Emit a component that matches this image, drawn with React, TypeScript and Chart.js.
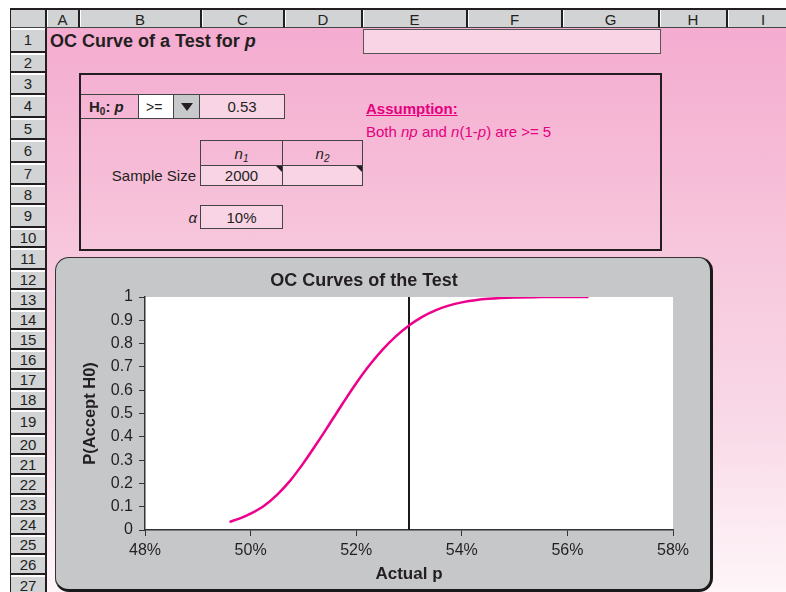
import React, { useEffect, useRef } from "react";
import { Chart, registerables } from "chart.js";

Chart.register(...registerables);

// ---- Data ----
const actualP = [49.6, 49.8, 50, 50.25, 50.5, 50.75, 51, 51.25, 51.5, 51.75, 52, 52.25, 52.5, 52.75, 53, 53.25, 53.5, 53.75, 54, 54.25, 54.5, 55, 55.5, 56, 56.4];
const probAccept = [0.035, 0.05, 0.07, 0.103, 0.151, 0.212, 0.287, 0.37, 0.457, 0.545, 0.63, 0.707, 0.774, 0.831, 0.878, 0.915, 0.943, 0.963, 0.977, 0.986, 0.992, 0.998, 0.9995, 1.0, 1.0];
const hypothesizedP = 53;
const xTickValues = [48, 50, 52, 54, 56, 58];
const yTickValues = [0, 0.1, 0.2, 0.3, 0.4, 0.5, 0.6, 0.7, 0.8, 0.9, 1];
const columnLetters = ["A", "B", "C", "D", "E", "F", "G", "H", "I"];
const rowNumbers = [1, 2, 3, 4, 5, 6, 7, 8, 9, 10, 11, 12, 13, 14, 15, 16, 17, 18, 19, 20, 21, 22, 23, 24, 25, 26, 27];

// ---- Layout (sheet grid) ----
const colEdges = [47, 80, 202, 285, 363, 468, 563, 660, 728, 800];
const rowEdges = [28, 53, 73, 95, 118, 140, 163, 185, 205, 228, 248, 270, 290, 310, 330, 350, 370, 390, 410, 435, 455, 475, 495, 515, 535, 555, 575, 597];

const FONT = '"Liberation Sans", Arial, Helvetica, sans-serif';
const MAGENTA = "#e6007e";
const CELL_LIGHT = "#f9d4e5";
const DARK = "#231f20";

const plotBg = {
  id: "plotBg",
  beforeDraw(chart: any) {
    const { ctx, chartArea } = chart;
    if (!chartArea) return;
    ctx.save();
    ctx.fillStyle = "#ffffff";
    ctx.fillRect(chartArea.left, chartArea.top, chartArea.right - chartArea.left, chartArea.bottom - chartArea.top);
    ctx.restore();
  },
};

function OCChart() {
  const ref = useRef<HTMLCanvasElement | null>(null);
  useEffect(() => {
    if (!ref.current) return;
    const chart = new Chart(ref.current, {
      type: "line",
      data: {
        datasets: [
          {
            label: "OC",
            data: actualP.map((x, i) => ({ x, y: probAccept[i] })),
            borderColor: "#ec008c",
            borderWidth: 2.5,
            pointRadius: 0,
            cubicInterpolationMode: "monotone",
            fill: false,
          },
          {
            label: "H0",
            data: [
              { x: hypothesizedP, y: 0 },
              { x: hypothesizedP, y: 1 },
            ],
            borderColor: "#1a1a1a",
            borderWidth: 2,
            pointRadius: 0,
            tension: 0,
            fill: false,
          },
        ],
      },
      options: {
        animation: false,
        responsive: false,
        devicePixelRatio: 1,
        layout: { padding: { left: 0, right: 90, top: 0, bottom: 0 } },
        plugins: {
          legend: { display: false },
          tooltip: { enabled: false },
          title: {
            display: true,
            text: "OC Curves of the Test",
            color: DARK,
            font: { family: FONT, size: 18, weight: "bold", lineHeight: 1.2 },
            padding: { top: 13.5, bottom: 4.9 },
          },
        },
        scales: {
          x: {
            type: "linear",
            min: xTickValues[0],
            max: xTickValues[xTickValues.length - 1],
            afterBuildTicks: (scale: any) => {
              scale.ticks = xTickValues.map((v) => ({ value: v }));
            },
            afterFit: (scale: any) => {
              scale.height = 61;
            },
            ticks: {
              color: DARK,
              font: { family: FONT, size: 16 },
              padding: 5,
              maxRotation: 0,
              callback: (v: any) => `${v}%`,
            },
            grid: { drawOnChartArea: false, drawTicks: true, tickLength: 6, color: "#333", lineWidth: 1 },
            border: { display: true, color: "#333", width: 1.5 },
            title: {
              display: true,
              text: "Actual p",
              color: DARK,
              font: { family: FONT, size: 17, weight: "bold", lineHeight: 1.2 },
              padding: { top: 0, bottom: 6.8 },
            },
          },
          y: {
            type: "linear",
            min: yTickValues[0],
            max: yTickValues[yTickValues.length - 1],
            afterBuildTicks: (scale: any) => {
              scale.ticks = yTickValues.map((v) => ({ value: v }));
            },
            afterFit: (scale: any) => {
              scale.width = 90;
            },
            ticks: {
              color: DARK,
              font: { family: FONT, size: 16 },
              padding: 6,
              callback: (v: any) => String(Math.round(Number(v) * 10) / 10),
            },
            grid: { drawOnChartArea: false, drawTicks: true, tickLength: 6, color: "#333", lineWidth: 1 },
            border: { display: true, color: "#333", width: 1.5 },
            title: {
              display: true,
              text: "P(Accept H0)",
              color: DARK,
              font: { family: FONT, size: 16.5, weight: "bold", lineHeight: 1.2 },
              padding: { top: 25.1, bottom: 0 },
            },
          },
        },
      } as any,
      plugins: [plotBg],
    });
    return () => chart.destroy();
  }, []);
  return (
    <canvas
      ref={ref}
      width={708}
      height={334}
      style={{ position: "absolute", left: 55, top: 257, width: 708, height: 334, display: "block" }}
    />
  );
}

const abs = (l: number, t: number, w: number, h: number, extra: React.CSSProperties = {}): React.CSSProperties => ({
  position: "absolute",
  left: l,
  top: t,
  width: w,
  height: h,
  boxSizing: "border-box",
  ...extra,
});

const centerText: React.CSSProperties = {
  display: "flex",
  alignItems: "center",
  justifyContent: "center",
};

const subStyle: React.CSSProperties = { fontSize: 10, verticalAlign: "-3px", lineHeight: 0 };

export default function App() {
  useEffect(() => {
    document.body.style.margin = "0";
  }, []);

  return (
    <div
      style={{
        position: "fixed",
        left: 0,
        top: 0,
        width: 786,
        height: 592,
        overflow: "hidden",
        background: "#ffffff",
        fontFamily: FONT,
        color: DARK,
      }}
    >
      {/* sheet background */}
      <div
        style={abs(47, 28, 739, 564, {
          background: "linear-gradient(to bottom, #f4acd0 0%, #f6bcd7 25%, #f7c8dd 41%, #f9d9e7 70%, #fef6f9 100%)",
        })}
      />

      {/* column header bar */}
      <div style={abs(10, 8, 776, 20, { background: "#d1d3d4", borderTop: `2px solid ${DARK}`, borderBottom: "1px solid #444" })} />
      <div style={abs(10, 8, 37, 20, { borderLeft: `1px solid ${DARK}`, borderRight: `2px solid ${DARK}`, borderTop: `2px solid ${DARK}`, borderBottom: "1px solid #444" })} />
      {columnLetters.map((c, i) => (
        <div
          key={c}
          style={abs(colEdges[i], 8, colEdges[i + 1] - colEdges[i], 20, {
            ...centerText,
            borderTop: `2px solid ${DARK}`,
            borderBottom: "1px solid #444",
            borderRight: `2px solid ${DARK}`,
            boxShadow: "inset 1px 0 0 #ffffff",
            fontSize: 15,
            paddingTop: 1,
          })}
        >
          {c}
        </div>
      ))}

      {/* row headers */}
      {rowNumbers.map((r, i) => (
        <div
          key={r}
          style={abs(10, rowEdges[i], 37, rowEdges[i + 1] - rowEdges[i], {
            ...centerText,
            background: "#d1d3d4",
            borderLeft: `1px solid ${DARK}`,
            borderRight: `2px solid ${DARK}`,
            borderBottom: `2px solid ${DARK}`,
            boxShadow: "inset 0 2px 0 #ffffff",
            fontSize: 15,
          })}
        >
          {r}
        </div>
      ))}

      {/* title */}
      <div style={abs(50, 29, 300, 24, { display: "flex", alignItems: "center", fontSize: 18, fontWeight: "bold", whiteSpace: "nowrap" })}>
        <span>
          OC Curve of a Test for <i>p</i>
        </span>
      </div>

      {/* E1:G1 merged cell */}
      <div style={abs(363, 29, 298, 25, { background: CELL_LIGHT, border: "1px solid #555" })} />

      {/* input box */}
      <div style={abs(79, 73, 583, 178, { border: `2.5px solid ${DARK}` })} />

      {/* H0 row */}
      <div style={abs(81, 94, 58, 25, { display: "flex", alignItems: "center", paddingLeft: 8, border: "1px solid #444", borderLeft: "none", fontSize: 15, fontWeight: "bold", whiteSpace: "nowrap" })}>
        <span>
          H<sub style={subStyle}>0</sub>: <i>p</i>
        </span>
      </div>
      <div style={abs(138, 94, 36, 25, { display: "flex", alignItems: "center", paddingLeft: 7, background: "#ffffff", border: "1px solid #444", fontSize: 14 })}>
        &gt;=
      </div>
      <div style={abs(173, 94, 27, 25, { background: "#c8c9cb", border: "1px solid #444", ...centerText })}>
        <div style={{ width: 0, height: 0, borderLeft: "6px solid transparent", borderRight: "6px solid transparent", borderTop: `8px solid ${DARK}` }} />
      </div>
      <div style={abs(199, 94, 86, 25, { ...centerText, background: CELL_LIGHT, border: "1px solid #444", fontSize: 15 })}>0.53</div>

      {/* Assumption */}
      <div style={abs(366, 98, 300, 20, { display: "flex", alignItems: "center", color: MAGENTA, fontSize: 15, fontWeight: "bold", textDecoration: "underline" })}>
        Assumption:
      </div>
      <div style={abs(366, 121, 300, 20, { display: "flex", alignItems: "center", color: MAGENTA, fontSize: 15, whiteSpace: "nowrap" })}>
        <span>
          Both <i>np</i> and <i>n</i>(1-<i>p</i>) are &gt;= 5
        </span>
      </div>

      {/* sample size table */}
      <div style={abs(200, 140, 83, 26, { ...centerText, border: "1px solid #444", fontSize: 15 })}>
        <span>
          <i>n</i>
          <sub style={subStyle}>
            <i>1</i>
          </sub>
        </span>
      </div>
      <div style={abs(282, 140, 81, 26, { ...centerText, border: "1px solid #444", fontSize: 15 })}>
        <span>
          <i>n</i>
          <sub style={subStyle}>
            <i>2</i>
          </sub>
        </span>
      </div>
      <div style={abs(200, 165, 83, 21, { ...centerText, background: CELL_LIGHT, border: "1px solid #444", fontSize: 15 })}>2000</div>
      <div style={abs(282, 165, 81, 21, { background: CELL_LIGHT, border: "1px solid #444" })} />
      <div style={abs(276, 166, 6, 6, { width: 0, height: 0, borderLeft: "6px solid transparent", borderTop: `6px solid ${DARK}` })} />
      <div style={abs(356, 166, 6, 6, { width: 0, height: 0, borderLeft: "6px solid transparent", borderTop: `6px solid ${DARK}` })} />
      <div style={abs(90, 165, 106, 21, { display: "flex", alignItems: "center", justifyContent: "flex-end", fontSize: 15 })}>Sample Size</div>

      {/* alpha */}
      <div style={abs(150, 205, 47, 24, { display: "flex", alignItems: "center", justifyContent: "flex-end", fontSize: 15, fontStyle: "italic" })}>α</div>
      <div style={abs(200, 205, 83, 24, { ...centerText, background: CELL_LIGHT, border: "1px solid #444", fontSize: 15 })}>10%</div>

      {/* chart box */}
      <div
        style={abs(55, 257, 658, 335, {
          background: "#c6c7c9",
          borderTop: "1px solid #333",
          borderLeft: "1px solid #333",
          borderRight: "3.5px solid #1a1a1a",
          borderBottom: "3.5px solid #1a1a1a",
          borderRadius: 14,
        })}
      />
      <OCChart />
    </div>
  );
}
